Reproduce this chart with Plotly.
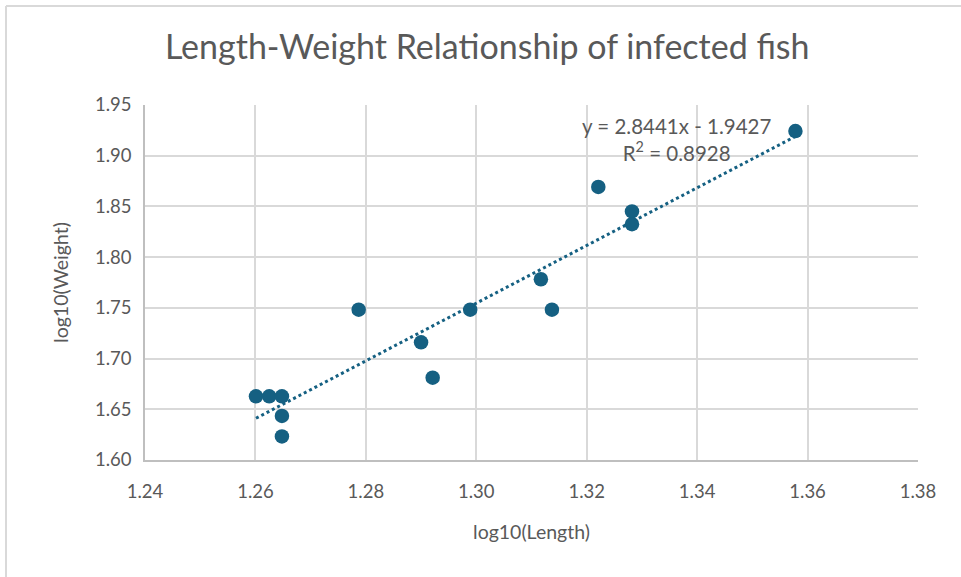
import plotly.graph_objects as go

log_length = [1.2601, 1.2625, 1.2648, 1.2648, 1.2648, 1.2787, 1.2900, 1.2921,
              1.2989, 1.3117, 1.3137, 1.3221, 1.3282, 1.3282, 1.3578]
log_weight = [1.6628, 1.6628, 1.6628, 1.6435, 1.6232, 1.7482, 1.7160, 1.6812,
              1.7482, 1.7782, 1.7482, 1.8692, 1.8451, 1.8325, 1.9243]
slope = 2.8441
intercept = -1.9427
r2 = 0.8928

x_ticks = [1.24, 1.26, 1.28, 1.30, 1.32, 1.34, 1.36, 1.38]
y_ticks = [1.60, 1.65, 1.70, 1.75, 1.80, 1.85, 1.90, 1.95]

color = "#156082"
txt = "#595959"
font = "Lato, Open Sans, sans-serif"

xmin, xmax = min(log_length), max(log_length)
trend_x = [xmin, xmax]
trend_y = [slope * v + intercept for v in trend_x]

fig = go.Figure()
fig.add_trace(go.Scatter(x=trend_x, y=trend_y, mode="lines",
                         line=dict(color=color, width=3, dash="dot"),
                         hoverinfo="skip", showlegend=False))
fig.add_trace(go.Scatter(x=log_length, y=log_weight, mode="markers",
                         marker=dict(color=color, size=14.5, line=dict(width=0)),
                         showlegend=False))

fig.add_annotation(x=0.687, y=0.902, xref="paper", yref="paper",
                   text=f"y = {slope}x - {abs(intercept)}<br>R<sup>2</sup> = {r2}",
                   showarrow=False, font=dict(family=font, size=20.5, color=txt),
                   align="center", xanchor="center", yanchor="middle")

# chart border (top and left)
fig.add_shape(type="line", xref="paper", yref="paper",
              x0=(6 - 145) / 773, x1=(961 - 145) / 773, y0=(577 - 6 - 117) / 355, y1=(577 - 6 - 117) / 355,
              line=dict(color="#d9d9d9", width=2))
fig.add_shape(type="line", xref="paper", yref="paper",
              x0=(6 - 145) / 773, x1=(6 - 145) / 773, y0=-117 / 355, y1=(577 - 6 - 117) / 355,
              line=dict(color="#d9d9d9", width=2))

fig.update_layout(
    width=961, height=577,
    margin=dict(l=145, r=43, t=105, b=117),
    paper_bgcolor="white", plot_bgcolor="white",
    title=dict(text="Length-Weight Relationship of infected fish",
               x=0.507, xanchor="center", y=0.918, yanchor="middle",
               font=dict(family=font, size=34, color=txt)),
    xaxis=dict(range=[1.24, 1.38], tickvals=x_ticks, ticktext=[f"{v:.2f}" for v in x_ticks],
               showgrid=True, gridcolor="#d9d9d9", gridwidth=1.5,
               showline=True, linecolor="#bfbfbf", linewidth=1.5,
               zeroline=False, ticks="", ticklen=0, ticklabelstandoff=14,
               tickfont=dict(family=font, size=18.5, color=txt),
               title=dict(text="log10(Length)", font=dict(family=font, size=19.5, color=txt), standoff=24)),
    yaxis=dict(range=[1.60, 1.95], tickvals=y_ticks, ticktext=[f"{v:.2f}" for v in y_ticks],
               showgrid=True, gridcolor="#d9d9d9", gridwidth=1.5,
               showline=True, linecolor="#bfbfbf", linewidth=1.5,
               zeroline=False, ticks="", ticklen=0, ticklabelstandoff=8,
               tickfont=dict(family=font, size=18.5, color=txt),
               title=dict(text="log10(Weight)", font=dict(family=font, size=19.5, color=txt), standoff=21)),
)

fig.write_html("out.html")
